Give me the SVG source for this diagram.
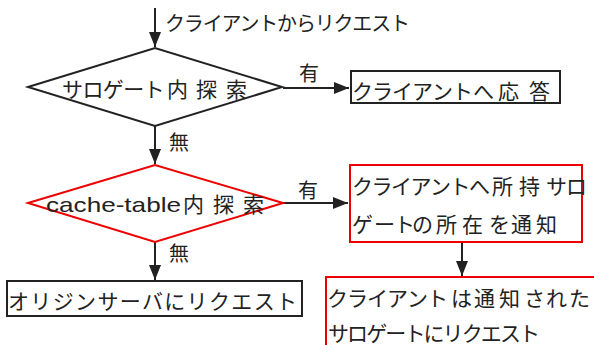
<svg xmlns="http://www.w3.org/2000/svg" width="594" height="345" viewBox="0 0 594 345">
<defs>
<marker id="ah" viewBox="0 0 15 12" refX="15" refY="6" markerWidth="15" markerHeight="12" markerUnits="userSpaceOnUse" orient="auto">
<path d="M0,0 L15,6 L0,12 Z" fill="#222"/>
</marker>
<style>
text{font-family:"Liberation Sans","Noto Sans CJK JP",sans-serif;font-size:21px;fill:#222;}
.top{font-size:20px;}
.lbl{font-size:20px;}
.blk{fill:#fff;stroke:#222;stroke-width:2;}
.red{fill:#fff;stroke:#e00;stroke-width:2;}
.con{stroke:#222;stroke-width:2;fill:none;marker-end:url(#ah);}
</style>
</defs>
<rect width="594" height="345" fill="#fff"/>
<g id="connectors">
<line class="con" x1="155" y1="8" x2="155" y2="47"/>
<line class="con" x1="283" y1="88" x2="349" y2="88"/>
<line class="con" x1="155" y1="126" x2="155" y2="164"/>
<line class="con" x1="283" y1="203" x2="348" y2="203"/>
<line class="con" x1="155" y1="242" x2="155" y2="280"/>
<line class="con" x1="462" y1="242" x2="462" y2="276"/>
<text class="lbl" x="299" y="81">有</text>
<text class="lbl" x="169" y="150">無</text>
<text class="lbl" x="298" y="198">有</text>
<text class="lbl" x="169" y="261">無</text>
</g>
<g id="start">
<text class="top" x="165" y="31" textLength="245" lengthAdjust="spacing">クライアントからリクエスト</text>
</g>
<g id="d1">
<polygon class="blk" points="28,87 155,48 282,87 155,126"/>
<text x="62 82.4 102.8 123.2 143.6 167 196 226" y="97">サロゲート内探索</text>
</g>
<g id="b1">
<rect class="blk" x="351" y="71" width="209" height="32"/>
<text x="352 372 392 412 432 452 473 498 529" y="99">クライアントへ応答</text>
</g>
<g id="d2">
<polygon class="red" points="28,203 155,165 283,203 155,242"/>
<text x="46" y="212" textLength="135" lengthAdjust="spacingAndGlyphs">cache-table</text>
<text x="183 213 243" y="212">内探索</text>
</g>
<g id="b2">
<rect class="red" x="350" y="165" width="232" height="77"/>
<text x="352 371.5 391 410.5 430 449.5 469 492 519 546 566" y="194">クライアントへ所持サロ</text>
<text x="352 374 394 412 436 462 489 511 536" y="232">ゲートの所在を通知</text>
</g>
<g id="b3">
<rect class="blk" x="7" y="281" width="295" height="35"/>
<text x="8" y="309" textLength="289" lengthAdjust="spacing">オリジンサーバにリクエスト</text>
</g>
<g id="b4">
<rect class="red" x="326" y="277" width="280" height="80"/>
<text x="327 347 367 387 407 427 451 474 499 524 546 569" y="306">クライアントは通知された</text>
<text x="328" y="341" textLength="212" lengthAdjust="spacing">サロゲートにリクエスト</text>
</g>
</svg>
